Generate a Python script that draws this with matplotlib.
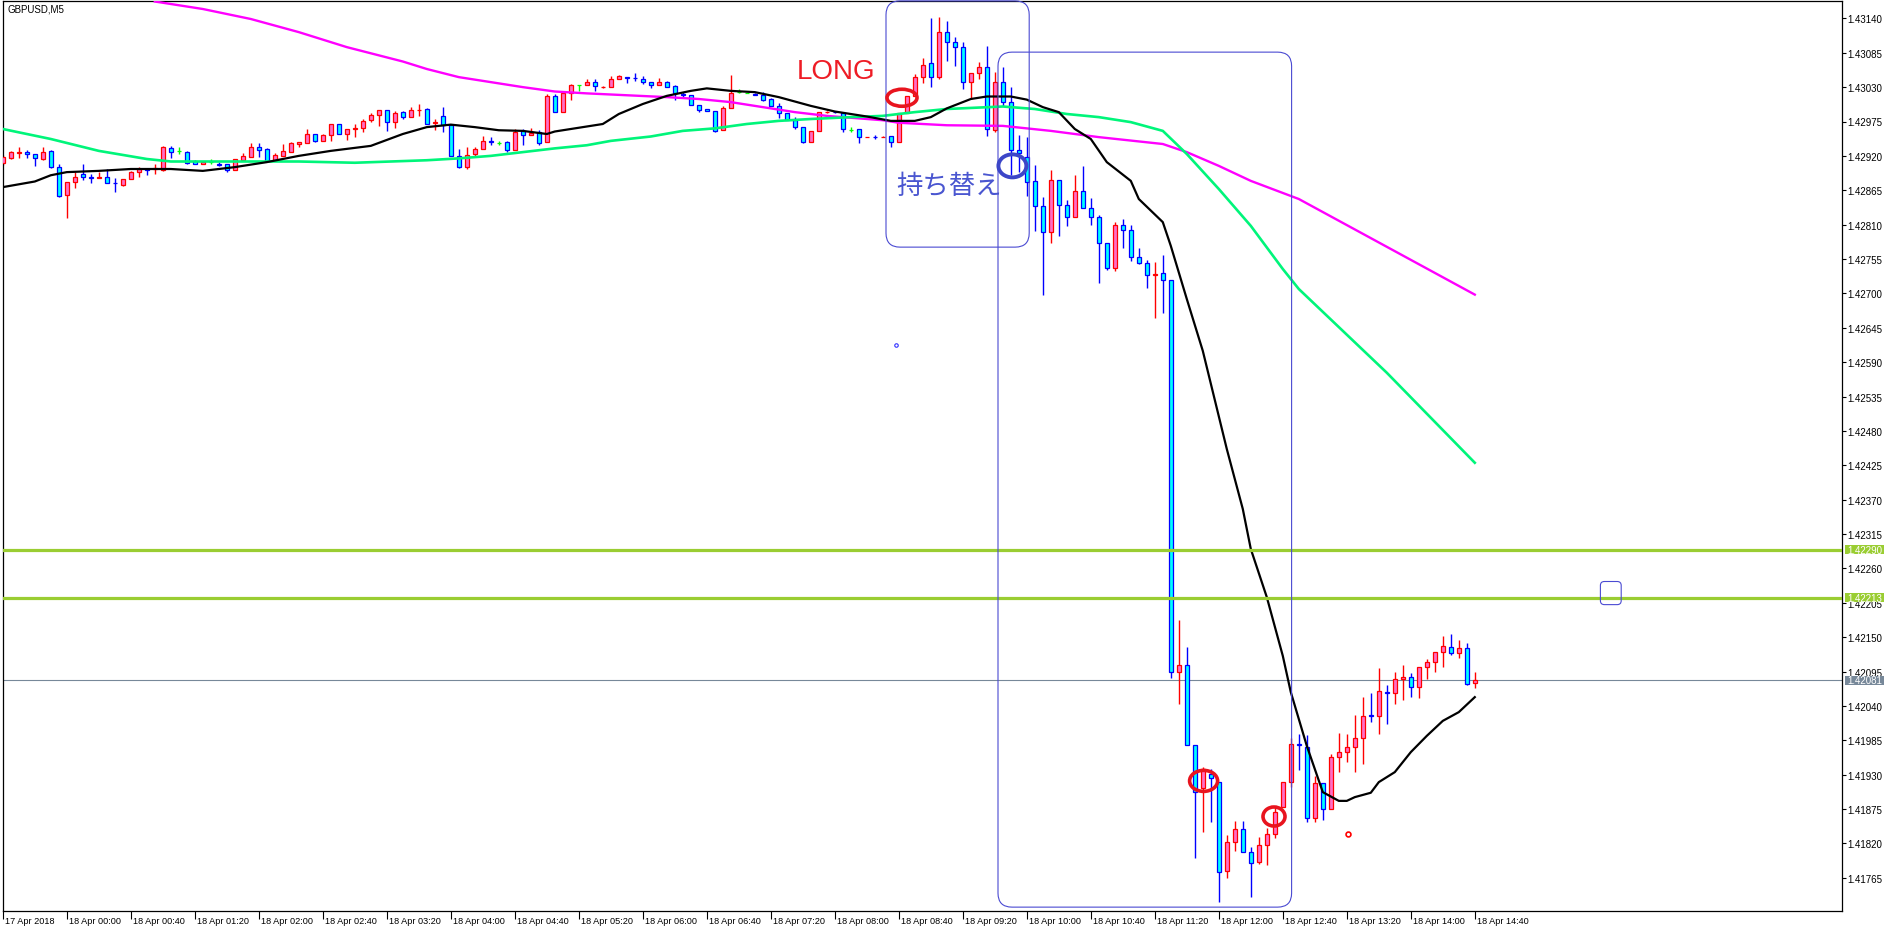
import numpy as np
import pandas as pd
import matplotlib
matplotlib.use('Agg')
import matplotlib.pyplot as plt
from matplotlib.patches import FancyBboxPatch, Ellipse, Rectangle
from matplotlib.transforms import ScaledTranslation, IdentityTransform, blended_transform_factory

# GBPUSD M5 bars, first bar 17 Apr 2018 23:20
start_time = '2018-04-17 23:20'
opens = [
    1.42909, 1.42917, 1.42925, 1.42926, 1.42923, 1.42915, 1.42928, 1.42902, 1.42858, 1.42878,
    1.42891, 1.42887, 1.42884, 1.42887, 1.42877, 1.42874, 1.42883, 1.42894, 1.42899, 1.42899,
    1.42898, 1.42932, 1.42928, 1.42927, 1.42912, 1.42907, 1.42911, 1.42907, 1.42907, 1.42897,
    1.42914, 1.42919, 1.42935, 1.42931, 1.42913, 1.42920, 1.42927, 1.42939, 1.42941, 1.42955,
    1.42944, 1.42953, 1.42971, 1.42955, 1.42963, 1.42964, 1.42977, 1.42985, 1.42993, 1.42975,
    1.42990, 1.42983, 1.42993, 1.42995, 1.42973, 1.42984, 1.42969, 1.42920, 1.42903, 1.42923,
    1.42931, 1.42944, 1.42941, 1.42942, 1.42930, 1.42960, 1.42953, 1.42959, 1.42942, 1.43016,
    1.42991, 1.43020, 1.43033, 1.43033, 1.43039, 1.43030, 1.43031, 1.43043, 1.43046, 1.43045,
    1.43043, 1.43039, 1.43033, 1.43038, 1.43032, 1.43019, 1.43018, 1.43001, 1.42995, 1.42992,
    1.42961, 1.42996, 1.43022, 1.43020, 1.43019, 1.43017, 1.43011, 1.43000, 1.42989, 1.42977,
    1.42967, 1.42943, 1.42960, 1.42990, 1.42991, 1.42988, 1.42962, 1.42963, 1.42950, 1.42951,
    1.42950, 1.42952, 1.42942, 1.42988, 1.43016, 1.43046, 1.43068, 1.43047, 1.43118, 1.43102,
    1.43094, 1.43039, 1.43052, 1.43062, 1.42962, 1.43039, 1.43007, 1.42930, 1.42919, 1.42880,
    1.42840, 1.42798, 1.42881, 1.42842, 1.42822, 1.42864, 1.42836, 1.42822, 1.42781, 1.42740,
    1.42809, 1.42801, 1.42758, 1.42749, 1.42730, 1.42732, 1.42721, 1.42095, 1.42105, 1.41977,
    1.41908, 1.41931, 1.41918, 1.41776, 1.41822, 1.41843, 1.41807, 1.41790, 1.41817, 1.41835,
    1.41878, 1.41919, 1.41979, 1.41975, 1.41860, 1.41917, 1.41875, 1.41958, 1.41967, 1.41975,
    1.41988, 1.42025, 1.42024, 1.42063, 1.42060, 1.42083, 1.42086, 1.42071, 1.42102, 1.42110,
    1.42126, 1.42135, 1.42124, 1.42133, 1.42076]
highs = [
    1.42921, 1.42928, 1.42935, 1.42929, 1.42923, 1.42935, 1.42929, 1.42907, 1.42878, 1.42895,
    1.42907, 1.42891, 1.42894, 1.42899, 1.42885, 1.42883, 1.42896, 1.42902, 1.42900, 1.42907,
    1.42936, 1.42936, 1.42935, 1.42928, 1.42913, 1.42911, 1.42915, 1.42910, 1.42907, 1.42915,
    1.42925, 1.42941, 1.42941, 1.42932, 1.42925, 1.42939, 1.42942, 1.42942, 1.42963, 1.42955,
    1.42955, 1.42971, 1.42971, 1.42963, 1.42971, 1.42979, 1.42989, 1.42993, 1.42994, 1.42992,
    1.42992, 1.42998, 1.43003, 1.42996, 1.42979, 1.42998, 1.42971, 1.42931, 1.42935, 1.42934,
    1.42952, 1.42951, 1.42944, 1.42944, 1.42963, 1.42963, 1.42964, 1.42962, 1.43019, 1.43019,
    1.43020, 1.43035, 1.43033, 1.43043, 1.43043, 1.43032, 1.43048, 1.43049, 1.43046, 1.43053,
    1.43048, 1.43039, 1.43044, 1.43040, 1.43033, 1.43022, 1.43018, 1.43001, 1.42995, 1.42992,
    1.43000, 1.43049, 1.43027, 1.43021, 1.43020, 1.43022, 1.43013, 1.43005, 1.42989, 1.42982,
    1.42967, 1.42960, 1.42990, 1.42992, 1.42992, 1.42989, 1.42966, 1.42963, 1.42951, 1.42954,
    1.42952, 1.42952, 1.42989, 1.43016, 1.43051, 1.43076, 1.43141, 1.43143, 1.43136, 1.43111,
    1.43102, 1.43052, 1.43070, 1.43096, 1.43054, 1.43062, 1.43030, 1.42953, 1.42950, 1.42905,
    1.42854, 1.42897, 1.42881, 1.42849, 1.42889, 1.42904, 1.42853, 1.42826, 1.42781, 1.42815,
    1.42819, 1.42809, 1.42773, 1.42753, 1.42751, 1.42761, 1.42721, 1.42177, 1.42134, 1.41977,
    1.41942, 1.41939, 1.41918, 1.41833, 1.41856, 1.41856, 1.41815, 1.41830, 1.41844, 1.41878,
    1.41919, 1.41988, 1.41995, 1.41993, 1.41928, 1.41917, 1.41963, 1.41997, 1.41995, 1.42025,
    1.42055, 1.42061, 1.42101, 1.42073, 1.42095, 1.42105, 1.42093, 1.42102, 1.42115, 1.42126,
    1.42152, 1.42155, 1.42145, 1.42141, 1.42095]
lows = [
    1.42905, 1.42915, 1.42917, 1.42917, 1.42904, 1.42914, 1.42901, 1.42855, 1.42820, 1.42869,
    1.42882, 1.42877, 1.42884, 1.42876, 1.42862, 1.42872, 1.42883, 1.42887, 1.42890, 1.42891,
    1.42896, 1.42917, 1.42923, 1.42907, 1.42907, 1.42907, 1.42907, 1.42904, 1.42895, 1.42897,
    1.42912, 1.42919, 1.42919, 1.42912, 1.42912, 1.42920, 1.42927, 1.42934, 1.42941, 1.42942,
    1.42944, 1.42944, 1.42955, 1.42946, 1.42951, 1.42959, 1.42975, 1.42968, 1.42960, 1.42964,
    1.42979, 1.42983, 1.42984, 1.42971, 1.42962, 1.42959, 1.42920, 1.42901, 1.42899, 1.42918,
    1.42931, 1.42938, 1.42938, 1.42927, 1.42929, 1.42938, 1.42953, 1.42938, 1.42942, 1.42991,
    1.42991, 1.43010, 1.43024, 1.43033, 1.43024, 1.43028, 1.43031, 1.43043, 1.43037, 1.43040,
    1.43035, 1.43028, 1.43033, 1.43031, 1.43010, 1.43015, 1.43001, 1.42991, 1.42992, 1.42959,
    1.42961, 1.42996, 1.43021, 1.43020, 1.43018, 1.43008, 1.43000, 1.42980, 1.42977, 1.42963,
    1.42940, 1.42943, 1.42960, 1.42989, 1.42989, 1.42958, 1.42958, 1.42940, 1.42950, 1.42947,
    1.42950, 1.42935, 1.42942, 1.42988, 1.43016, 1.43037, 1.43031, 1.43043, 1.43072, 1.43064,
    1.43027, 1.43011, 1.43043, 1.42952, 1.42959, 1.43000, 1.42889, 1.42894, 1.42856, 1.42800,
    1.42697, 1.42780, 1.42792, 1.42808, 1.42822, 1.42836, 1.42810, 1.42717, 1.42738, 1.42736,
    1.42773, 1.42752, 1.42747, 1.42709, 1.42660, 1.42669, 1.42084, 1.42043, 1.41977, 1.41796,
    1.41839, 1.41854, 1.41727, 1.41765, 1.41808, 1.41806, 1.41734, 1.41787, 1.41786, 1.41828,
    1.41878, 1.41911, 1.41938, 1.41855, 1.41855, 1.41858, 1.41875, 1.41935, 1.41950, 1.41935,
    1.41947, 1.42014, 1.41995, 1.42011, 1.42043, 1.42050, 1.42054, 1.42052, 1.42083, 1.42094,
    1.42103, 1.42122, 1.42117, 1.42073, 1.42068]
closes = [
    1.42918, 1.42926, 1.42926, 1.42923, 1.42916, 1.42927, 1.42902, 1.42856, 1.42878, 1.42887,
    1.42887, 1.42884, 1.42887, 1.42876, 1.42876, 1.42883, 1.42894, 1.42899, 1.42898, 1.42900,
    1.42934, 1.42927, 1.42928, 1.42908, 1.42907, 1.42911, 1.42911, 1.42906, 1.42898, 1.42915,
    1.42920, 1.42935, 1.42930, 1.42912, 1.42921, 1.42928, 1.42941, 1.42942, 1.42955, 1.42944,
    1.42953, 1.42971, 1.42955, 1.42963, 1.42964, 1.42976, 1.42985, 1.42993, 1.42975, 1.42988,
    1.42983, 1.42993, 1.42994, 1.42971, 1.42974, 1.42969, 1.42920, 1.42903, 1.42922, 1.42931,
    1.42944, 1.42943, 1.42941, 1.42930, 1.42959, 1.42953, 1.42957, 1.42941, 1.43016, 1.42991,
    1.43020, 1.43033, 1.43033, 1.43039, 1.43032, 1.43031, 1.43043, 1.43048, 1.43045, 1.43044,
    1.43038, 1.43033, 1.43038, 1.43031, 1.43021, 1.43018, 1.43001, 1.42994, 1.42992, 1.42960,
    1.42996, 1.43021, 1.43022, 1.43020, 1.43018, 1.43010, 1.43000, 1.42989, 1.42977, 1.42967,
    1.42943, 1.42960, 1.42990, 1.42991, 1.42990, 1.42963, 1.42962, 1.42950, 1.42951, 1.42950,
    1.42951, 1.42942, 1.42988, 1.43016, 1.43046, 1.43065, 1.43047, 1.43118, 1.43102, 1.43094,
    1.43039, 1.43052, 1.43062, 1.42963, 1.43039, 1.43007, 1.42930, 1.42925, 1.42879, 1.42840,
    1.42798, 1.42881, 1.42842, 1.42822, 1.42864, 1.42836, 1.42822, 1.42781, 1.42740, 1.42809,
    1.42801, 1.42758, 1.42749, 1.42730, 1.42731, 1.42721, 1.42095, 1.42105, 1.41977, 1.41902,
    1.41939, 1.41924, 1.41775, 1.41822, 1.41843, 1.41806, 1.41788, 1.41817, 1.41835, 1.41871,
    1.41919, 1.41979, 1.41977, 1.41860, 1.41917, 1.41875, 1.41958, 1.41967, 1.41975, 1.41988,
    1.42024, 1.42024, 1.42064, 1.42060, 1.42083, 1.42086, 1.42071, 1.42102, 1.42110, 1.42126,
    1.42136, 1.42124, 1.42133, 1.42075, 1.42081]

# moving averages (bar number, price)
black_bars = [0, 4, 6, 8, 12, 16, 21, 25, 27, 29, 33, 37, 41, 46, 50, 53, 56, 59, 62, 65,
              68, 69, 73, 75, 77, 80, 83, 86, 88, 91, 94, 97, 101, 104, 107, 108, 111, 114, 116, 118,
              121, 123, 126, 128, 130, 132, 134, 136, 138, 141, 142, 145, 146, 148, 150, 153, 155, 156, 158, 160,
              161, 163, 165, 167, 168, 169, 171, 172, 174, 176, 178, 180, 182, 184]
black_vals = [1.42870, 1.42879, 1.42889, 1.42894, 1.42896, 1.42899, 1.42899, 1.42896, 1.42899, 1.42902,
              1.42910, 1.42920, 1.42928, 1.42936, 1.42955, 1.42966, 1.42970, 1.42966, 1.42961, 1.42960,
              1.42955, 1.42959, 1.42967, 1.42971, 1.42987, 1.43003, 1.43016, 1.43024, 1.43028, 1.43024,
              1.43022, 1.43014, 1.43000, 1.42991, 1.42985, 1.42983, 1.42976, 1.42976, 1.42982, 1.42996,
              1.43011, 1.43015, 1.43015, 1.43010, 1.42998, 1.42990, 1.42963, 1.42947, 1.42910, 1.42880,
              1.42851, 1.42814, 1.42776, 1.42691, 1.42608, 1.42451, 1.42355, 1.42291, 1.42214, 1.42120,
              1.42062, 1.41976, 1.41902, 1.41888, 1.41888, 1.41894, 1.41901, 1.41918, 1.41934, 1.41966,
              1.41992, 1.42016, 1.42030, 1.42054]
green_bars = [0, 6, 12, 18, 21, 37, 44, 53, 57, 61, 65, 69, 73, 76, 81, 85, 89, 93, 97, 101,
              106, 110, 114, 118, 125, 129, 133, 137, 141, 145, 148, 152, 156, 160, 162, 173, 184]
green_vals = [1.42963, 1.42947, 1.42928, 1.42915, 1.42911, 1.42911, 1.42909, 1.42913, 1.42916, 1.42920,
              1.42926, 1.42932, 1.42937, 1.42944, 1.42951, 1.42960, 1.42964, 1.42971, 1.42976, 1.42979,
              1.42982, 1.42984, 1.42990, 1.42995, 1.42999, 1.42995, 1.42987, 1.42982, 1.42974, 1.42960,
              1.42923, 1.42867, 1.42808, 1.42739, 1.42707, 1.42573, 1.42429]
magenta_bars = [19, 25, 31, 37, 43, 50, 53, 57, 61, 65, 69, 73, 83, 87, 91, 95, 99, 103, 110, 112,
                118, 125, 131, 137, 145, 148, 152, 156, 162, 184]
magenta_vals = [1.43167, 1.43155, 1.43139, 1.43118, 1.43094, 1.43071, 1.43059, 1.43046, 1.43038, 1.43030,
                1.43023, 1.43020, 1.43014, 1.43011, 1.43006, 1.42998, 1.42990, 1.42984, 1.42977, 1.42973,
                1.42969, 1.42968, 1.42960, 1.42950, 1.42939, 1.42926, 1.42904, 1.42880, 1.42851, 1.42698]

level_prices = [1.42290, 1.42213]
last_price = 1.42081
ytick_vals = [1.43140, 1.43085, 1.43030, 1.42975, 1.42920, 1.42865, 1.42810, 1.42755, 1.42700,
              1.42645, 1.42590, 1.42535, 1.42480, 1.42425, 1.42370, 1.42315, 1.42260, 1.42205,
              1.42150, 1.42095, 1.42040, 1.41985, 1.41930, 1.41875, 1.41820, 1.41765]

plt.rcParams['font.family'] = ['Liberation Sans', 'DejaVu Sans']

W, H = 1891, 929
fig = plt.figure(figsize=(W / 100, H / 100), dpi=100, facecolor='white')
ax = fig.add_axes([2.5 / W, 1 - 911.5 / H, (1842 - 2.5) / W, (911.5 - 2) / H])
ax.set_xlim(-0.0375, 229.9)
ax.set_ylim(1.417126, 1.431678)
ax.set_autoscale_on(False)

o = np.array(opens); h = np.array(highs); l = np.array(lows); c = np.array(closes)
x = np.arange(len(o))
edge = np.where(c > o, '#ff0000', np.where(c < o, '#0000ff', '#00ff00'))
fill = np.where(c > o, '#ff6ec7', np.where(c < o, '#00ffff', '#00ff00'))
ax.vlines(x, l, h, colors=edge, linewidth=1.0, zorder=2)
ax.bar(x, c - o, bottom=o, width=0.5, color=fill, edgecolor=edge, linewidth=0.9, zorder=3)

# moving averages
ax.plot(magenta_bars, magenta_vals, color='#ff00ff', lw=1.7, zorder=5)
ax.plot(green_bars, green_vals, color='#00f57a', lw=1.9, zorder=5)
ax.plot(black_bars, black_vals, color='black', lw=1.6, zorder=6)

# levels
for lp in level_prices:
    ax.axhline(lp, color='#9acd32', lw=2.3, zorder=7)
ax.axhline(last_price, color='#778899', lw=0.8, zorder=1)

# axes look
for s in ax.spines.values():
    s.set_linewidth(0.9)
    s.set_color('black')
ax.yaxis.tick_right()
ax.set_yticks(ytick_vals)
ax.set_yticklabels(['%.5f' % v for v in ytick_vals])
ax.tick_params(axis='y', direction='out', length=3, width=0.8, pad=0.5, labelsize=7)

times = pd.date_range(start_time, periods=len(o), freq='5min')
tick_idx = [0] + [i for i, t in enumerate(times)
                  if t.day == 18 and (t.hour * 60 + t.minute) % 40 == 0]
tick_lab = ['17 Apr 2018'] + [times[i].strftime('%d %b %H:%M') for i in tick_idx[1:]]
ax.set_xticks(tick_idx)
ax.set_xticklabels(tick_lab)
ax.tick_params(axis='x', direction='out', length=6, width=0.8, pad=-1.8, labelsize=6.6)
shift = ScaledTranslation(2.5 / 100, 0, fig.dpi_scale_trans)
for lab in ax.get_xticklabels():
    lab.set_horizontalalignment('left')
    lab.set_transform(lab.get_transform() + shift)

fig.text(7 / W, 1 - 10 / H, 'GBPUSD,M5', fontsize=7, va='center', ha='left')

# price tags on the right scale
bt = blended_transform_factory(ax.transAxes, ax.transData)
tag_w = 39 / 1839.5
tag_x = 1 + 3 / 1839.5
for p, col in [(level_prices[0], '#9acd32'), (level_prices[1], '#9acd32'), (last_price, '#778899')]:
    ax.add_patch(Rectangle((tag_x, p - 0.000074), tag_w, 0.000148, transform=bt,
                           facecolor=col, edgecolor='none', clip_on=False, zorder=10))
    ax.text(tag_x + tag_w / 2, p, '%.5f' % p, transform=bt, color='white', fontsize=7,
            ha='center', va='center', clip_on=False, zorder=11)


# drawn annotations (pixel sized shapes)
def to_px(xv, yv):
    return ax.transData.transform((xv, yv))


def rbox(x0, x1, y0, y1, r, col):
    a = to_px(x0, y0)
    b = to_px(x1, y1)
    ax.add_patch(FancyBboxPatch((min(a[0], b[0]), min(a[1], b[1])), abs(b[0] - a[0]), abs(b[1] - a[1]),
                                boxstyle='round,pad=0,rounding_size=%d' % r, transform=IdentityTransform(),
                                fill=False, edgecolor=col, lw=0.8, zorder=8, clip_on=False))


def ring(xv, yv, w, hh, col, lw):
    cx, cy = to_px(xv, yv)
    ax.add_patch(Ellipse((cx, cy), w, hh, transform=IdentityTransform(), fill=False,
                         edgecolor=col, lw=lw, zorder=9, clip_on=False))


rbox(110.4, 128.3, 1.43168, 1.42774, 14, '#4a4ad2')
rbox(124.4, 161.1, 1.43086, 1.41718, 14, '#4a4ad2')
rbox(199.7, 202.3, 1.42239, 1.42202, 4, '#4a4ad2')

ring(112.4, 1.43013, 30, 17, '#e8141e', 2.6)
ring(126.2, 1.42904, 28, 23, '#3c46c8', 2.8)
ring(150.1, 1.41920, 28, 21, '#e8141e', 2.6)
ring(158.9, 1.41863, 22, 19, '#e8141e', 2.6)

ax.text(99.2, 1.43056, 'LONG', fontsize=20, color='#ee1c25', va='center', ha='left', zorder=9)
ax.text(111.7, 1.42872, '持ち替え', fontsize=19, color='#4a56d0', va='center', ha='left',
        family=['Noto Sans CJK JP', 'DejaVu Sans'], zorder=9)

ax.plot([111.6], [1.42617], 'o', ms=2.5, mfc='white', mec='#3030ff', mew=0.8, zorder=9)
ax.plot([168.1], [1.41835], 'o', ms=3.5, mfc='white', mec='#ff0000', mew=1.2, zorder=9)

fig.savefig('out.png', dpi=100, facecolor='white')
